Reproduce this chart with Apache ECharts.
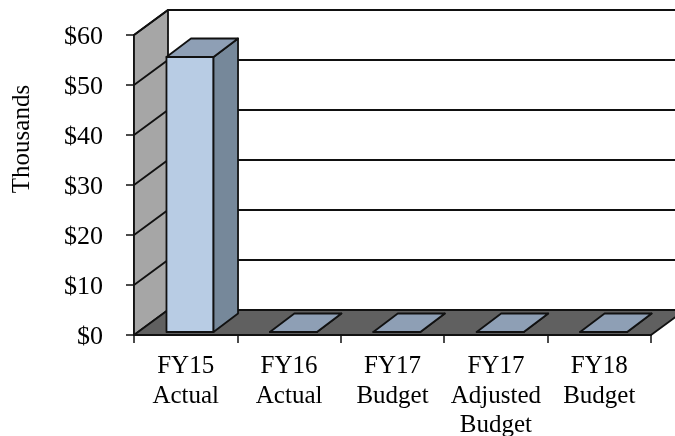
<!DOCTYPE html>
<html>
<head>
<meta charset="utf-8">
<script src="https://cdn.jsdelivr.net/npm/echarts@6/dist/echarts.min.js"></script>
<style>
  html, body { margin: 0; padding: 0; background: #fff; }
  #chart { width: 675px; height: 436px; }
</style>
</head>
<body>
<div id="chart"></div>
<script>
const categories = ["FY15\nActual", "FY16\nActual", "FY17\nBudget", "FY17\nAdjusted\nBudget", "FY18\nBudget"];
const budgetValues = [55, 0, 0, 0, 0];
const yTicks = [0, 10, 20, 30, 40, 50, 60];

// pseudo 3d depth, in pixels
const DEPTH_X = 34;
const DEPTH_Y = -25;
const BAR_DEPTH_X = 24.5;
const BAR_DEPTH_Y = -18.5;
const BAR_SHIFT_X = 4.3;
const BAR_SHIFT_Y = -3;
const BAR_RATIO = 0.455;

const poly = (points, fill) => ({
  type: "polygon",
  shape: { points },
  style: { fill, stroke: "#111", lineWidth: 1.8, lineJoin: "round" },
});

// side wall and floor of the box
const renderBox = (params, api) => {
  const halfBand = api.size([1, 0])[0] / 2;
  const left = api.coord([0, 0])[0] - halfBand;
  const right = api.coord([categories.length - 1, 0])[0] + halfBand;
  const bottom = api.coord([0, 0])[1];
  const top = api.coord([0, 60])[1];
  return {
    type: "group",
    children: [
      poly([[left, bottom], [left, top], [left + DEPTH_X, top + DEPTH_Y], [left + DEPTH_X, bottom + DEPTH_Y]], "#a6a6a6"),
      poly([[left, bottom], [right, bottom], [right + DEPTH_X, bottom + DEPTH_Y], [left + DEPTH_X, bottom + DEPTH_Y]], "#606060"),
    ],
  };
};

// one gridline: along the side wall, then along the back wall
const renderGrid = (params, api) => {
  const halfBand = api.size([1, 0])[0] / 2;
  const left = api.coord([0, 0])[0] - halfBand;
  const right = api.coord([categories.length - 1, 0])[0] + halfBand;
  const y = api.coord([0, api.value(0)])[1];
  return {
    type: "polyline",
    shape: { points: [[left, y], [left + DEPTH_X, y + DEPTH_Y], [right + DEPTH_X, y + DEPTH_Y]] },
    style: { fill: "none", stroke: "#111", lineWidth: 1.8 },
  };
};

const renderBar = (params, api) => {
  const p = api.coord([api.value(0), api.value(1)]);
  const base = api.coord([api.value(0), 0]);
  const w = api.size([1, 0])[0] * BAR_RATIO;
  const x0 = p[0] + BAR_SHIFT_X - w / 2;
  const x1 = x0 + w;
  const yTop = p[1] + BAR_SHIFT_Y;
  const yBase = base[1] + BAR_SHIFT_Y;
  const dx = BAR_DEPTH_X;
  const dy = BAR_DEPTH_Y;
  return {
    type: "group",
    children: [
      poly([[x0, yBase], [x1, yBase], [x1, yTop], [x0, yTop]], "#b8cce4"),
      poly([[x1, yBase], [x1 + dx, yBase + dy], [x1 + dx, yTop + dy], [x1, yTop]], "#76889a"),
      poly([[x0, yTop], [x1, yTop], [x1 + dx, yTop + dy], [x0 + dx, yTop + dy]], "#8e9fb5"),
    ],
  };
};

const myChart = echarts.init(document.getElementById("chart"), null, { renderer: "canvas" });

const font = "'Liberation Serif', 'Times New Roman', serif";

const option = {
  animation: false,
  backgroundColor: "#fff",
  grid: { left: 134, right: 24, top: 35, bottom: 101, outerBoundsMode: "none" },
  graphic: [{
    type: "text",
    x: 22,
    y: 139,
    rotation: Math.PI / 2,
    style: { text: "Thousands", fill: "#000", font: "25px " + font, textAlign: "center", textVerticalAlign: "middle" },
  }],
  xAxis: {
    type: "category",
    data: categories,
    axisLine: { show: true, onZero: false, lineStyle: { color: "#111", width: 1.8 } },
    axisTick: { show: true, alignWithLabel: false, length: 8, lineStyle: { color: "#111", width: 1.5 } },
    axisLabel: { interval: 0, color: "#000", fontFamily: font, fontSize: 25, lineHeight: 29.5, margin: 17 },
  },
  yAxis: {
    type: "value",
    min: 0,
    max: 60,
    interval: 10,
    splitLine: { show: false },
    axisLine: { show: true, lineStyle: { color: "#111", width: 1.8 } },
    axisTick: { show: true, length: 8, lineStyle: { color: "#111", width: 1.5 } },
    axisLabel: {
      margin: 31,
      formatter: v => `{a|$${v}}`,
      rich: { a: { color: "#000", fontFamily: font, fontSize: 26, padding: [5, 0, 0, 0] } },
    },
  },
  series: [
    { type: "custom", name: "box", renderItem: renderBox, data: [0], z: 1, silent: true },
    { type: "custom", name: "grid", renderItem: renderGrid, data: yTicks.slice(1).map(v => [v]), encode: { y: 0 }, z: 2, silent: true },
    { type: "custom", name: "Budget", renderItem: renderBar, data: budgetValues.map((v, i) => [i, v]), encode: { x: 0, y: 1 }, z: 3 },
  ],
};

myChart.setOption(option);
</script>
</body>
</html>
